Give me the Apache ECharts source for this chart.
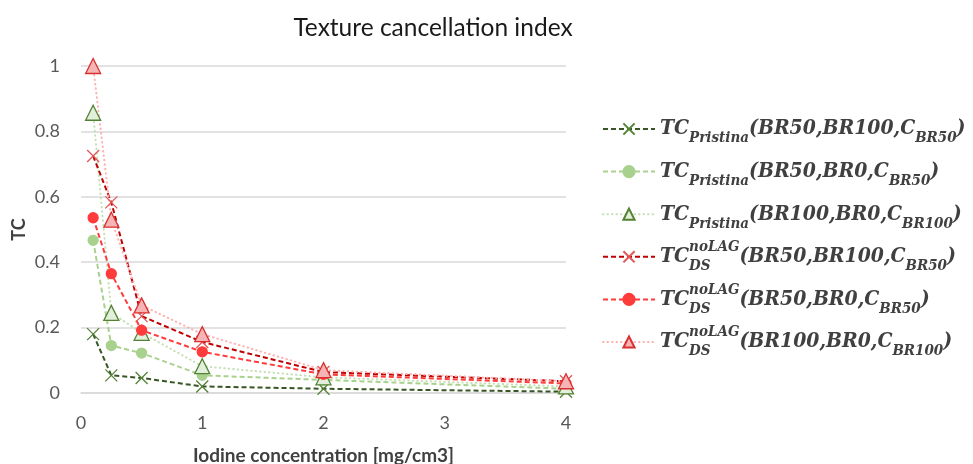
<!DOCTYPE html>
<html>
<head>
<meta charset="utf-8">
<script src="https://cdn.jsdelivr.net/npm/echarts@6/dist/echarts.min.js"></script>
<style>
  html, body { margin: 0; padding: 0; background: #fff; }
  #main { width: 973px; height: 464px; }
</style>
</head>
<body>
<div id="main"></div>
<script>
// iodine concentration (mg/cm3)
var xVals = [0.1, 0.25, 0.5, 1, 2, 4];
// TC values
var pristina_50_100 = [0.18, 0.054, 0.046, 0.02, 0.013, 0.004];
var pristina_50_0 = [0.467, 0.145, 0.122, 0.054, 0.04, 0.013];
var pristina_100_0 = [0.857, 0.245, 0.184, 0.082, 0.048, 0.02];
var ds_50_100 = [0.725, 0.583, 0.235, 0.156, 0.064, 0.036];
var ds_50_0 = [0.536, 0.365, 0.192, 0.126, 0.057, 0.029];
var ds_100_0 = [1.0, 0.53, 0.268, 0.18, 0.07, 0.036];
var yTicks = [0, 0.2, 0.4, 0.6, 0.8, 1];

var legendNames = ['p1', 'p2', 'p3', 'd1', 'd2', 'd3'];
// {v| } is an empty spacer so every row gets the same height
var legendLabels = {
  p1: '{m|TC}{v| }{s|Pristina}{m|(BR50,BR100,C}{s|BR50}{m|)}',
  p2: '{m|TC}{v| }{s|Pristina}{m|(BR50,BR0,C}{s|BR50}{m|)}',
  p3: '{m|TC}{v| }{s|Pristina}{m|(BR100,BR0,C}{s|BR100}{m|)}',
  d1: '{m|TC}{z|DS}{u|noLAG}{m|(BR50,BR100,C}{s|BR50}{m|)}',
  d2: '{m|TC}{z|DS}{u|noLAG}{m|(BR50,BR0,C}{s|BR50}{m|)}',
  d3: '{m|TC}{z|DS}{u|noLAG}{m|(BR100,BR0,C}{s|BR100}{m|)}'
};

var cross = 'path://M0,0L10,10M10,0L0,10';
var dots = [0.5, 4];

function pairs(vals) {
  return xVals.map(function (x, i) { return [x, vals[i]]; });
}

function makeSeries(name, vals, lineColor, dash, symbol, size, fill, border) {
  return {
    name: name,
    type: 'line',
    data: pairs(vals),
    symbol: symbol,
    symbolSize: size,
    showAllSymbol: true,
    lineStyle: { color: lineColor, width: 2, type: dash, cap: dash === dots ? 'round' : 'butt' },
    itemStyle: { color: fill, borderColor: border, borderWidth: 1.3 },
    emphasis: { disabled: true },
    z: 2
  };
}

var chart = echarts.init(document.getElementById('main'));
var font = 'Lato, "Liberation Sans", sans-serif';
var serif = '"DejaVu Serif Condensed", "DejaVu Serif", serif';
var ink = '#404040';
var subStyle = { fontFamily: serif, fontSize: 15, fontWeight: 'bold', fontStyle: 'italic', color: ink };

var option = {
  animation: false,
  backgroundColor: '#fff',
  title: {
    text: 'Texture cancellation index',
    left: 428,
    top: 11,
    textAlign: 'center',
    textStyle: { fontFamily: font, fontSize: 24.5, fontWeight: 'normal', color: '#1a1a1a' }
  },
  grid: { left: 81, right: 407, top: 66, bottom: 71, outerBoundsMode: 'none' },
  legend: {
    data: legendNames,
    orient: 'vertical',
    left: 597,
    top: 107,
    itemWidth: 52,
    itemHeight: 14,
    itemGap: 8.6,
    formatter: function (n) { return legendLabels[n]; },
    textStyle: {
      color: ink,
      rich: {
        m: { fontFamily: serif, fontSize: 21, fontWeight: 'bold', fontStyle: 'italic', color: ink, lineHeight: 34, verticalAlign: 'middle' },
        s: Object.assign({ lineHeight: 14, verticalAlign: 'bottom' }, subStyle),
        z: Object.assign({ lineHeight: 14, verticalAlign: 'bottom', width: 0 }, subStyle),
        u: Object.assign({ lineHeight: 22, verticalAlign: 'top' }, subStyle),
        v: Object.assign({ lineHeight: 22, verticalAlign: 'top', width: 0 }, subStyle)
      }
    }
  },
  xAxis: {
    type: 'value',
    min: 0,
    max: 4,
    interval: 1,
    name: 'Iodine concentration [mg/cm3]',
    nameLocation: 'middle',
    nameGap: 53,
    nameTextStyle: { fontFamily: font, fontSize: 19, fontWeight: 'bold', color: ink },
    axisLine: { show: true, lineStyle: { color: '#d9d9d9', width: 1.5 } },
    axisTick: { show: false },
    splitLine: { show: false },
    axisLabel: { fontFamily: font, fontSize: 18, color: '#595959', margin: 21 }
  },
  yAxis: {
    type: 'value',
    min: yTicks[0],
    max: yTicks[yTicks.length - 1],
    interval: 0.2,
    name: 'TC',
    nameLocation: 'middle',
    nameGap: 53,
    nameTextStyle: { fontFamily: font, fontSize: 18, fontWeight: 'bold', color: ink },
    axisLine: { show: false },
    axisTick: { show: false },
    splitLine: { lineStyle: { color: '#d9d9d9', width: 1.5 } },
    axisLabel: {
      fontFamily: font, fontSize: 18, color: '#595959', margin: 21,
      formatter: function (v) { return String(Math.round(v * 10) / 10); }
    }
  },
  series: [
    makeSeries('p1', pristina_50_100, '#375623', [5, 3], cross, 12, 'transparent', '#548235'),
    makeSeries('p2', pristina_50_0, '#a9d18e', [5, 3], 'circle', 10, '#a9d18e', '#a9d18e'),
    makeSeries('p3', pristina_100_0, '#c5e0b4', dots, 'triangle', 15, '#e2efda', '#548235'),
    makeSeries('d1', ds_50_100, '#c00000', [5, 3], cross, 12, 'transparent', '#e05858'),
    makeSeries('d2', ds_50_0, '#ff3b3b', [5, 3], 'circle', 10, '#ff3b3b', '#ff3b3b'),
    makeSeries('d3', ds_100_0, '#ffb0b0', dots, 'triangle', 15, '#f6b4b4', '#d83030')
  ]
};

chart.setOption(option);
</script>
</body>
</html>
